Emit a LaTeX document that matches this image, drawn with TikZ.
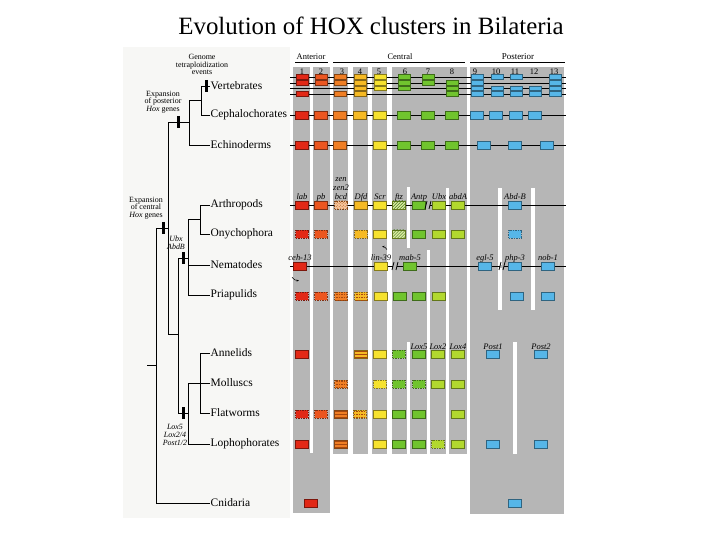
\documentclass[tikz,border=0pt]{standalone}
\usepackage{fontspec}
\setmainfont{Liberation Serif}
\usetikzlibrary{patterns,arrows.meta}

\definecolor{paper}{RGB}{247,247,245}
\definecolor{colgray}{RGB}{182,182,182}
\definecolor{hxa}{RGB}{226,40,22}
\definecolor{hxb}{RGB}{236,86,32}
\definecolor{hxc}{RGB}{240,126,36}
\definecolor{hxd}{RGB}{246,186,36}
\definecolor{hxe}{RGB}{246,226,46}
\definecolor{hxf}{RGB}{112,196,46}
\definecolor{hxg}{RGB}{178,216,46}
\definecolor{hxp}{RGB}{86,182,232}
\definecolor{hxstripe}{RGB}{168,72,14}

\tikzset{
  gbox/.style={draw=#1!55!black, fill=#1, line width=0.7bp, minimum width=12.5bp,
    minimum height=8bp, inner sep=0pt},
  vbox/.style={gbox=#1, minimum height=4.3bp, minimum width=12bp},
  pl/.style={},
  pd/.style={dash pattern=on 1.5bp off 1bp},
  ps/.style={postaction={pattern=horizontal lines, pattern color=hxstripe}},
  psd/.style={ps, pd},
  ph/.style={fill=hxg!45, postaction={pattern=north east lines, pattern color=hxf!60!black}},
  pz/.style={fill=hxc!45, pd, postaction={pattern=crosshatch dots, pattern color=hxc!70!black}},
  taxon/.style={anchor=west, inner sep=0.5bp, font=\fontsize{11.5}{12}\selectfont},
  note/.style={align=center, inner sep=0pt, font=\fontsize{8}{7.8}\selectfont},
  gene/.style={anchor=base, inner sep=0pt, font=\fontsize{8.5}{9.5}\selectfont\itshape},
  head/.style={inner sep=0pt, font=\fontsize{8.5}{9}\selectfont},
  tree/.style={line width=0.7bp},
  gline/.style={line width=0.9bp},
  event/.style={line width=3bp},
}

\begin{document}
\begin{tikzpicture}[x=1bp,y=-1bp]
  \useasboundingbox (0,0) rectangle (720,540);
  \node (title) at (371,26) {\fontsize{25}{30}\selectfont Evolution of HOX clusters in Bilateria};

  % paper and gray columns
  \fill[paper] (123,47) rectangle (290,518);
  \foreach \a/\b/\e in {293/310/513,313/330/513,333/348/454,353/368/454,372/387/454,392/467/454,470/564/514}
    \fill[colgray] (\a,67) rectangle (\b,\e);
  \fill[colgray] (293,453) rectangle (330,513);
  \foreach \a/\t/\b in {408.5/187/248,408.5/342/454,428.5/250/454,447.5/188/454,500/188/310,533/188/310,515/342/454}
    \fill[white] (\a-1.7,\t) rectangle (\a+1.7,\b);

  % header
  \node[head] (ant) at (311,57) {Anterior};
  \node[head] (cen) at (400,57) {Central};
  \node[head, font=\fontsize{9}{9}\selectfont] (pos) at (518,57) {Posterior};
  \draw[line width=0.8bp] (295,62.5) -- (328,62.5) (333,62.5) -- (465,62.5) (470,62.5) -- (565,62.5);
  \foreach \n/\x in {1/302,2/321,3/342,4/360,5/379,6/405,7/428,8/452,9/475,10/496,11/515,12/534,13/554}
    \node[head] (num\n) at (\x,71.5) {\n};

  % taxa
  \node[taxon] (vert) at (210,86) {Vertebrates};
  \node[taxon] (ceph) at (210,115) {Cephalochorates};
  \node[taxon] (echi) at (210,145) {Echinoderms};
  \node[taxon] (arth) at (210,205) {Arthropods};
  \node[taxon] (onych) at (210,234) {Onychophora};
  \node[taxon] (nem) at (210,265) {Nematodes};
  \node[taxon] (pri) at (210,295) {Priapulids};
  \node[taxon] (ann) at (210,353) {Annelids};
  \node[taxon] (moll) at (210,383) {Molluscs};
  \node[taxon] (flat) at (210,413) {Flatworms};
  \node[taxon] (lph) at (210,444) {Lophophorates};
  \node[taxon] (cnid) at (210,503) {Cnidaria};

  % tree
  \coordinate (chord) at (201,100);
  \coordinate (deut) at (189,122);
  \coordinate (panart) at (200,219);
  \coordinate (ecd) at (188,258);
  \coordinate (tro) at (200,383);
  \coordinate (lot) at (188,413);
  \coordinate (prot) at (178,334);
  \coordinate (bil) at (168,228);
  \coordinate (root) at (156,365);
  \coordinate (rootend) at (147,365);
  \draw[tree] (chord) |- (vert.west) (chord) |- (ceph.west);
  \draw[tree] (deut) |- (chord) (deut) |- (echi.west);
  \draw[tree] (panart) |- (arth.west) (panart) |- (onych.west);
  \draw[tree] (ecd) |- (panart) (ecd) |- (nem.west) (ecd) |- (pri.west);
  \draw[tree] (tro) |- (ann.west) (tro) -- (moll.west) (tro) |- (flat.west);
  \draw[tree] (lot) |- (tro) (lot) |- (lph.west);
  \draw[tree] (prot) |- (ecd) (prot) |- (lot);
  \draw[tree] (bil) |- (deut) (bil) |- (prot);
  \draw[tree] (root) |- (bil) (root) |- (cnid.west) (rootend) -- (root);

  % events on the tree
  \draw[event] (206,80) -- (206,92);
  \draw[event] (178,116) -- (178,128);
  \draw[event] (163,222) -- (163,234);
  \draw[event] (183,252) -- (183,264);
  \draw[event] (183,407) -- (183,419);
  \node[note] (tetra) at (202,64.5) {Genome\\tetraploidization\\events};
  \node[note] (postexp) at (163,102) {Expansion\\of posterior\\\textit{Hox} genes};
  \node[note] (cenexp) at (146,208) {Expansion\\of central\\\textit{Hox} genes};
  \node[note, font=\fontsize{8}{8.5}\selectfont\itshape] (ubx) at (176,243) {Ubx\\AbdB};
  \node[note, font=\fontsize{8}{8}\selectfont\itshape] (lox) at (175,435) {Lox5\\Lox2/4\\Post1/2};

  % gene lines
  \foreach \y in {77,83,88.5,94}
    \draw[line width=0.6bp] (290,\y) -- (566,\y);
  \foreach \y in {115,145,205,266}
    \draw[gline] (290,\y) -- (566,\y);

  % vertebrates: four clusters
  \foreach \x/\c/\r in {302/hxa/{77,83,94},321/hxb/{77,83},340/hxc/{77,83,94},360/hxd/{77,83,88.5,94},
      380/hxe/{77,83,88.5},404/hxf/{77,83,88.5},428/hxf/{77,83},452/hxf/{83,88.5,94},
      477/hxp/{77,83,88.5,94},497/hxp/{77,88.5,94},516/hxp/{77,88.5,94},535/hxp/{88.5,94},555/hxp/{77,83,88.5,94}}
    \foreach \y in \r
      \node[vbox=\c] (v-\x-\y) at (\x,\y) {};

  % cephalochordates
  \foreach \x/\c/\s in {302/hxa/pl,321/hxb/pl,340/hxc/pl,360/hxd/pl,380/hxe/pl,404/hxf/pl,428/hxf/pl,
      452/hxf/pl,477/hxp/pl,496/hxp/pl,516/hxp/pl,535/hxp/pl}
    \node[gbox=\c,\s] (ce-\x) at (\x,115) {};

  % echinoderms
  \foreach \x/\c/\s in {302/hxa/pl,321/hxb/pl,340/hxc/pl,380/hxe/pl,404/hxf/pl,428/hxf/pl,452/hxf/pl,
      484/hxp/pl,515/hxp/pl,547/hxp/pl}
    \node[gbox=\c,\s] (ec-\x) at (\x,145) {};

  % arthropods
  \foreach \x/\c/\s/\g in {302/hxa/pl/lab,321/hxb/pl/pb,341/hxc/pz/bcd,361/hxd/pl/Dfd,380/hxe/pl/Scr,
      399/hxg/ph/ftz,419/hxf/pl/Antp,439/hxg/pl/Ubx,458/hxg/pl/abdA,515/hxp/pl/Abd-B}{
    \node[gbox=\c,\s] (ar-\x) at (\x,205) {};
    \node[gene] (arl-\x) at (\x,200) {\g};
  }
  \node[gene, align=center] (zen) at (341,190.5) {zen\\zen2};

  % onychophora
  \foreach \x/\c/\s in {302/hxa/pd,321/hxb/pd,361/hxd/pd,380/hxe/pl,399/hxg/ph,419/hxf/pl,439/hxg/pl,
      458/hxg/pl,515/hxp/pd}
    \node[gbox=\c,\s] (on-\x) at (\x,234) {};

  % nematodes
  \foreach \x/\c/\s/\g in {300/hxa/pl/ceh-13,381/hxe/pl/lin-39,410/hxf/pl/mab-5,485/hxp/pl/egl-5,
      515/hxp/pl/php-3,548/hxp/pl/nob-1}{
    \node[gbox=\c,\s] (ne-\x) at (\x,266) {};
    \node[gene] (nel-\x) at (\x,260.5) {\g};
  }
  \draw[-{Stealth[length=2.5bp]}, line width=0.5bp] ([shift={(-8,7)}]ne-300.south) to[bend right=30] ([shift={(-1,10)}]ne-300.south);
  \draw[-{Stealth[length=2.5bp]}, line width=0.5bp] ([shift={(6,-12)}]ne-381.north) to[bend right=30] ([shift={(1,-15)}]ne-381.north);

  % breaks in the clusters
  \foreach \x/\y in {428/205,395/266,502/266}{
    \fill[colgray] (\x-1.8,\y-1.5) rectangle (\x+1.8,\y+1.5);
    \draw[line width=0.8bp] (\x-3,\y+4) -- (\x-1,\y-4) (\x+1,\y+4) -- (\x+3,\y-4);
  }

  % priapulids
  \foreach \x/\c/\s in {302/hxa/pd,321/hxb/pd,341/hxc/psd,361/hxd/psd,381/hxe/pl,400/hxf/pl,419/hxf/pl,
      439/hxg/pl,517/hxp/pl,548/hxp/pl}
    \node[gbox=\c,\s] (pr-\x) at (\x,296) {};

  % annelids
  \foreach \x/\c/\s in {302/hxa/pl,361/hxd/ps,380/hxe/pl,399/hxf/pd,419/hxf/pl,438/hxg/pl,458/hxg/pl,
      493/hxp/pl,541/hxp/pl}
    \node[gbox=\c,\s] (an-\x) at (\x,354) {};
  \foreach \x/\g in {419/Lox5,438/Lox2,458/Lox4,493/Post1,541/Post2}
    \node[gene] (anl-\x) at (\x,349) {\g};

  % molluscs
  \foreach \x/\c/\s in {341/hxc/psd,380/hxe/pd,399/hxf/pd,419/hxf/pd,438/hxg/pl,458/hxg/pl}
    \node[gbox=\c,\s] (mo-\x) at (\x,384) {};

  % flatworms
  \foreach \x/\c/\s in {302/hxa/pd,321/hxb/pd,341/hxc/ps,360/hxd/psd,380/hxe/pl,399/hxf/pl,419/hxf/pl,
      458/hxg/pl}
    \node[gbox=\c,\s] (fl-\x) at (\x,414) {};

  % lophophorates
  \foreach \x/\c/\s in {302/hxa/pl,341/hxc/ps,380/hxe/pl,399/hxf/pl,419/hxf/pl,438/hxg/pd,458/hxg/pl,
      493/hxp/pl,541/hxp/pl}
    \node[gbox=\c,\s] (lo-\x) at (\x,444) {};

  % cnidaria
  \node[gbox=hxa] (cn-a) at (311,503) {};
  \node[gbox=hxp] (cn-p) at (515,503) {};
\end{tikzpicture}
\end{document}
